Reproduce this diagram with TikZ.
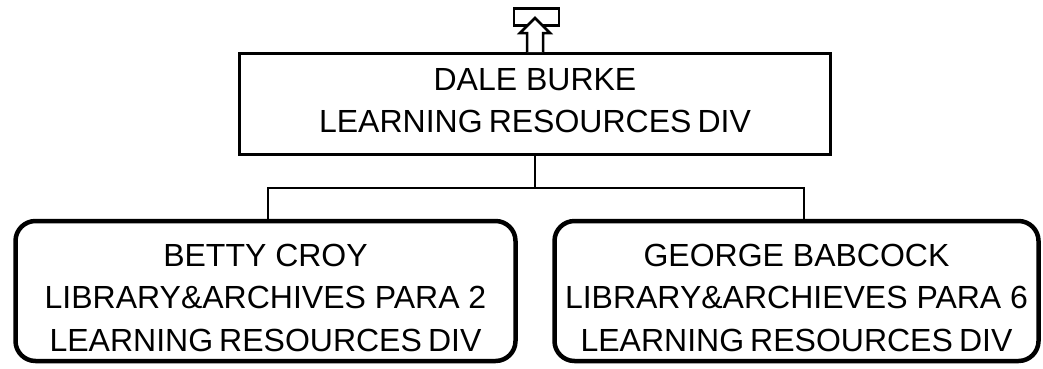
\documentclass[tikz,border=0pt]{standalone}
\usepackage{fontspec}
\setmainfont{Liberation Sans}
\begin{document}
\begin{tikzpicture}[x=1pt,y=-1pt,
  txt/.style={font=\fontsize{32}{42.5}\selectfont, align=center, inner sep=0pt},
  headbox/.style={draw, line width=2.5pt, minimum width=591pt, minimum height=101pt, inner sep=0pt},
  staffbox/.style={draw, line width=4.5pt, rounded corners=20pt, minimum height=140pt, inner sep=0pt},
  link/.style={line width=2pt}]
\useasboundingbox (0,0) rectangle (1043,368);
\newcommand{\lrd}{{\spaceskip=0.19em LEARNING RESOURCES DIV}}
\node[headbox] (top) at (535,104) {};
\node[txt] (toptxt) at ([yshift=3.5pt]top.center) {DALE BURKE\\\lrd};
\node[staffbox, minimum width=500pt] (left) at (265.5,291) {};
\node[txt] (lefttxt) at ([yshift=-6.5pt]left.center) {BETTY CROY\\LIBRARY\&ARCHIVES PARA 2\\\lrd};
\node[staffbox, minimum width=484pt] (right) at (796.5,291) {};
\node[txt] (righttxt) at ([yshift=-6.5pt]right.center) {GEORGE BABCOCK\\LIBRARY\&ARCHIEVES PARA 6\\\lrd};
\coordinate (bus) at (535,188);
\coordinate (jl) at (268,188);
\coordinate (jr) at (804,188);
\draw[link] (top.south) -- (bus);
\draw[link] (jl |- left.north) -- (jl) -- (jr) -- (jr |- right.north);
% icon
\node[draw, line width=2.5pt, minimum width=45pt, minimum height=17pt, inner sep=0pt] (icon) at (536.5,17) {};
\draw[line width=2.5pt, fill=white, line join=miter] (527,52) -- (527,33) -- (520,33) -- (535,18) -- (550,33) -- (543,33) -- (543,52);
\end{tikzpicture}
\end{document}
